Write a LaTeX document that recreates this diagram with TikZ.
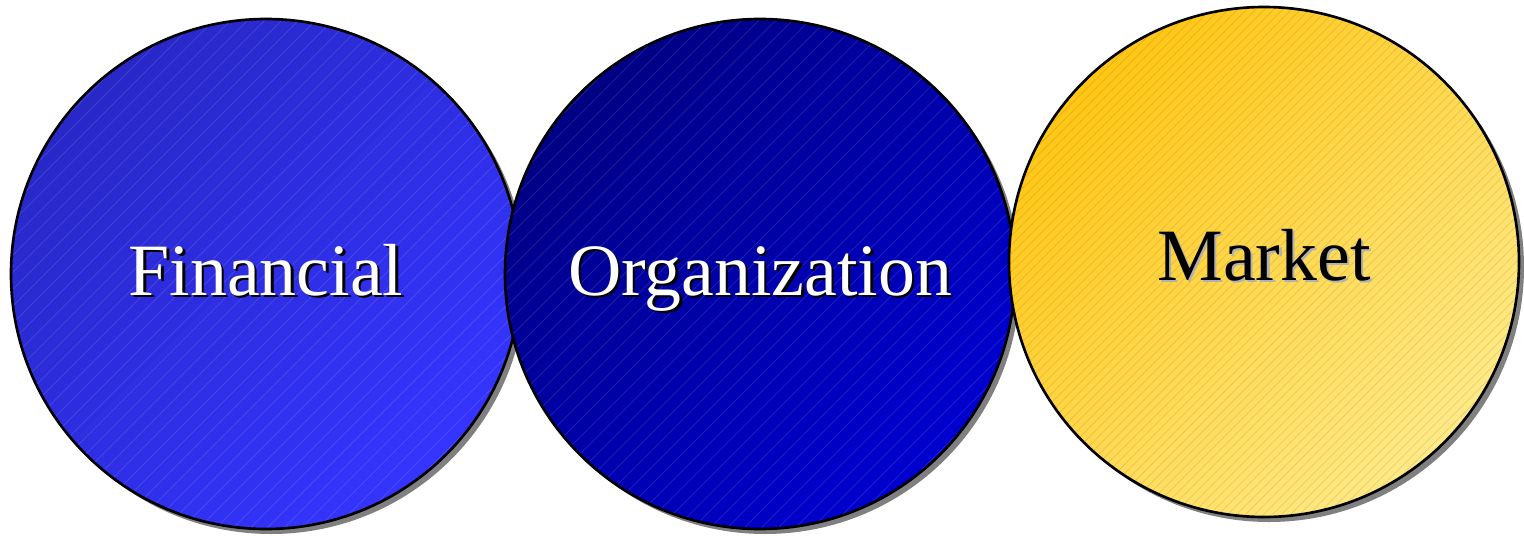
\documentclass[tikz,border=0pt]{standalone}
\usepackage{fontspec}
\setmainfont{Liberation Serif}
\usetikzlibrary{shadows}

\definecolor{finA}{RGB}{40,40,200}
\definecolor{finB}{RGB}{52,52,255}
\definecolor{orgA}{RGB}{0,0,132}
\definecolor{orgB}{RGB}{0,0,208}
\definecolor{mktA}{RGB}{255,198,20}
\definecolor{mktB}{RGB}{255,234,135}

% faint diagonal hatching, clipped to the circle it is used in
\newcommand{\hatchlines}[3]{%
  \foreach \k in {-#1,...,#1}
    \draw[#3,line width=0.4pt] ([xshift=\k*#2-6cm,yshift=-6cm]path picture bounding box.center) -- ++(12cm,12cm);}

\begin{document}
\begin{tikzpicture}[area/.style={shape=circle,draw=black,line width=1.5pt,minimum size=10.2cm,inner sep=0pt,drop shadow={shadow xshift=0.1cm,shadow yshift=-0.1cm,fill=black!50,opacity=1}},tint/.style 2 args={top color=#1,bottom color=#2,shading angle=45},areaB/.style={area,path picture={\hatchlines{22}{0.34cm}{white,opacity=0.13}}},areaY/.style={area,path picture={\hatchlines{40}{0.18cm}{black!70!orange,opacity=0.13}}},word/.style={font=\fontsize{42}{48}\selectfont,anchor=base,inner sep=0pt}]
\def\dy{5.22};
\def\dxa{5.32};
\def\dxb{15.2};
\def\dxc{25.28};
\def\sh{0.05};

\useasboundingbox (0,0) rectangle (30.48,10.7);

\node[areaB,tint={finA}{finB}] (fin) at (\dxa,\dy) {};
\node[word,text=black] (finS) at ([xshift=\sh cm,yshift=-0.42cm-\sh cm]fin.center) {Financial};
\node[word,text=white] (finT) at ([yshift=-0.42cm]fin.center) {Financial};

\node[areaB,tint={orgA}{orgB}] (org) at (\dxb,\dy) {};
\node[word,text=black] (orgS) at ([xshift=\sh cm,yshift=-0.42cm-\sh cm]org.center) {Organization};
\node[word,text=white] (orgT) at ([yshift=-0.42cm]org.center) {Organization};

\node[areaY,tint={mktA}{mktB}] (mkt) at (\dxc,\dy+0.24) {};
\node[word,text=black!30] (mktS) at ([xshift=\sh cm,yshift=-0.36cm-\sh cm]mkt.center) {Market};
\node[word,text=black] (mktT) at ([yshift=-0.36cm]mkt.center) {Market};
\end{tikzpicture}
\end{document}
